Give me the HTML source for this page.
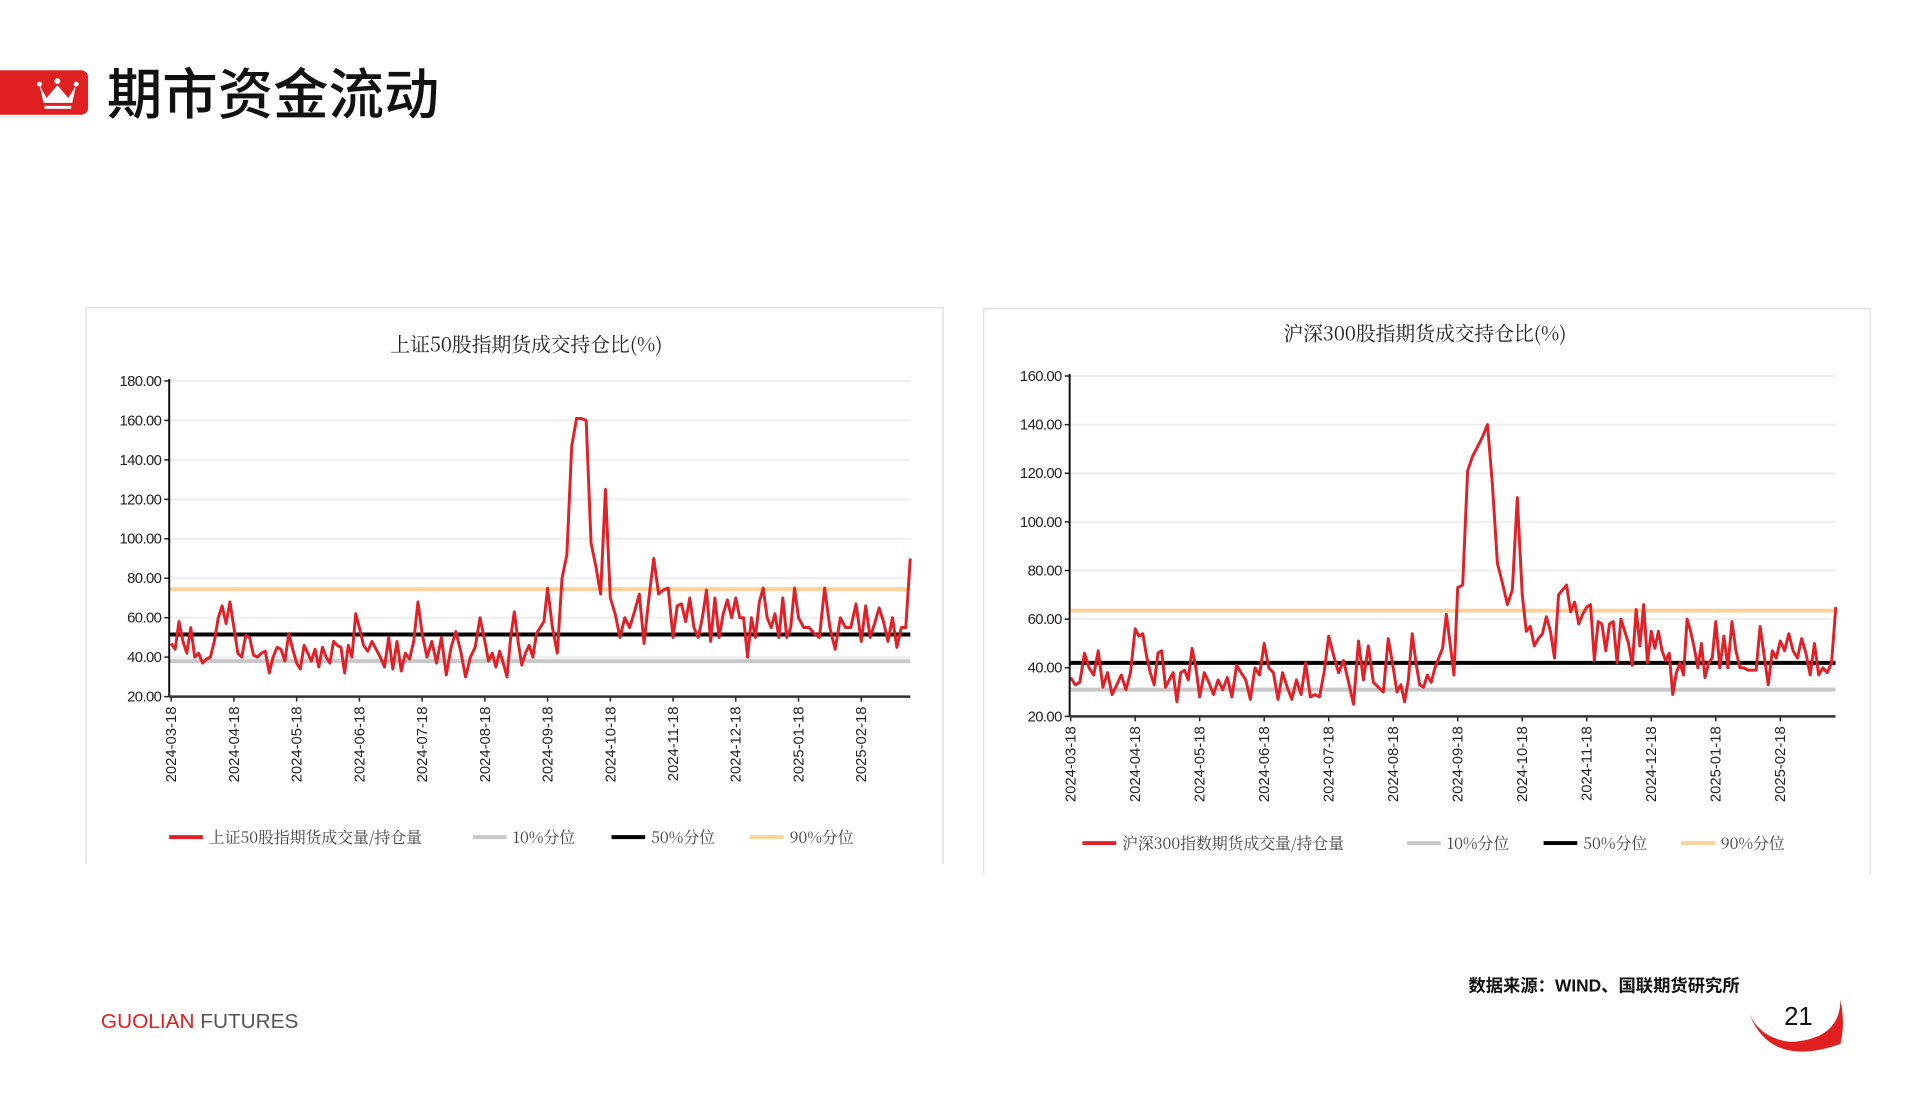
<!DOCTYPE html>
<html><head><meta charset="utf-8">
<style>
body{margin:0;width:1919px;height:1114px;background:#fff;overflow:hidden;position:relative;font-family:"Liberation Sans","Noto Sans CJK SC",sans-serif;}
#wrap{position:absolute;left:0;top:0;width:1919px;height:1114px;transform:scale(0.9895);transform-origin:0 0;}
.abs{position:absolute}
</style></head>
<body>
<div id="wrap">
<div class="abs" style="left:0;top:71px;width:89px;height:45px;background:#e02020;border-radius:0 7px 7px 0;">
<svg width="89" height="45"><circle cx="58" cy="11" r="3" fill="#fff"/><circle cx="40" cy="14" r="2.5" fill="#fff"/><circle cx="77" cy="14" r="2.5" fill="#fff"/><polygon points="40,15 47,28 58,15 69,28 77,15 73,33 44,33" fill="#fff"/><rect x="45" y="36" width="27" height="3" fill="#fff"/></svg>
</div>
<div class="abs" style="left:108px;top:61px;font-size:56px;line-height:62px;color:#111;font-family:'Noto Sans CJK SC',sans-serif;font-weight:500">期市资金流动</div>

<svg class="abs" style="left:0;top:0" width="1919" height="1114" id="chart"></svg>

<div class="abs" style="left:1484px;top:983px;font-size:17.5px;font-weight:bold;color:#111;">数据来源：WIND、国联期货研究所</div>
<div class="abs" style="left:102px;top:1021px;font-size:21px;"><span style="color:#e02020">GUOLIAN</span> <span style="color:#555">FUTURES</span></div>
<svg class="abs" style="left:1760px;top:995px" width="110" height="85"><path d="M8,30 Q30,85 100,60 Q105,40 100,15 Q100,55 50,58 Q20,55 8,30 Z" fill="#e02020"/></svg>
<div class="abs" style="left:1803px;top:1012px;font-size:26px;color:#111;">21</div>
</div>

<script>
const ticks=["2024-03-18","2024-04-18","2024-05-18","2024-06-18","2024-07-18","2024-08-18","2024-09-18","2024-10-18","2024-11-18","2024-12-18","2025-01-18","2025-02-18"];
const leftY=[20,40,60,80,100,120,140,160,180];
const rightY=[20,40,60,80,100,120,140,160];
const leftPct=[38,51.5,74.5];
const rightPct=[31,42,63.5];
const leftSeries=[
[47,44,58,48,42,55,40,42,37,39,40,48,60,66,57,68],
[55,42,40,51,50,41,40,42,43,32,40,45,44,38,52,44],
[37,34,46,42,38,44,35,45,40,37,48,46,45,32,46,40,62],
[55,46,43,48,44,40,35,50,34,48,33,42,39,48,68],
[52,40,48,37,50,31,45,53,43,30,40,45,60],
[48,38,42,35,43,37,30,50,63,48,36,42,46,40,52,55,58],
[75,55,42,80,92,147,161,161,160,98,86,72,125],
[70,62,50,60,55,63,72,47,70,90,72,74,75],
[50,66,67,58,70,55,50,60,74,48,70,50,62,69,60],
[70,60,60,40,60,50,68,75,60,55,62,50,70,50,55,75],
[60,55,55,52,50,75,55,44,60,55,55,67],
[48,66,50,57,65,58,48,60,45,55,55,90]];
const rightSeries=[
[36,33,34,46,40,37,47,32,38,29,33,37,31,38],
[56,53,54,45,38,33,46,47,32,35,38,26,38,39,35,48,40],
[28,38,34,29,35,31,36,28,41,38,35,27,40,37],
[50,40,38,27,38,32,27,35,29,42,28,29,28,38],
[53,45,38,43,34,25,51,35,49,34,32,30,52],
[40,30,33,26,35,54,42,33,32,37,34,40,44,48,62,50,37],
[73,74,121,127,131,135,140,115,83,75,66,72,110],
[70,55,57,49,52,54,61,55,44,70,72,74,63,67,58,62],
[65,66,43,59,58,47,58,59,42,60,55,50,41,64,49,66,42],
[55,48,55,47,43,46,29,38,42,37,60,55,48,40,50,36,42,44],
[59,40,53,40,59,47,40,40,39,39,39,57,45,33,47,44],
[51,47,54,47,44,52,46,37,50,37,40,38,42,65]];
const leftLegend=["上证50股指期货成交量/持仓量","10%分位","50%分位","90%分位"];
const rightLegend=["沪深300指数期货成交量/持仓量","10%分位","50%分位","90%分位"];

const NS="http://www.w3.org/2000/svg";
const svg=document.getElementById('chart');
function mk(tag,attrs,parent){const e=document.createElementNS(NS,tag);for(const k in attrs)e.setAttribute(k,attrs[k]);(parent||svg).appendChild(e);return e;}

function drawChart(c){
  const g=mk('g',{});
  
  
  const p=mk('path',{d:`M${c.px0},${c.py1} V${c.py0} H${c.px1} V${c.py1}`,fill:'none',stroke:'#e2e2e2','stroke-width':1.5},g);
  
  
  const t=mk('text',{x:c.tx,y:c.ty,'text-anchor':'middle','font-size':20,fill:'#222','font-family':'"Noto Serif CJK SC",serif'},g);
  t.textContent=c.title;
  
  
  const ymin=c.yt[0],ymax=c.yt[c.yt.length-1];
  const Y=v=>c.y0+(v-ymin)/(ymax-ymin)*(c.y1-c.y0);
  const X=m=>c.x0+m*c.mw;
  c.yt.forEach(v=>{
    if(v>ymin){const gl=mk('line',{x1:c.ax,x2:c.xEnd,y1:Y(v),y2:Y(v),stroke:'#eee','stroke-width':2},g);
    
    }
    mk('line',{x1:c.ax-5,x2:c.ax,y1:Y(v),y2:Y(v),stroke:'#222','stroke-width':1.5},g);
    const l=mk('text',{x:c.ax-8,y:Y(v)+5,'text-anchor':'end','font-size':15,fill:'#222','letter-spacing':'-0.6'},g);
    l.textContent=v.toFixed(2);
    
    
  });
  ticks.forEach((d,i)=>{
    const x=X(i);
    mk('line',{x1:x,x2:x,y1:c.y0,y2:c.y0+5,stroke:'#222','stroke-width':1.5},g);
    const l=mk('text',{x:x+5,y:c.y0+10,'text-anchor':'end','font-size':15,fill:'#222',transform:`rotate(-90 ${x+5} ${c.y0+10})`},g);
    l.textContent=d;
    
    
  });
  const pc=['#c8c8c8','#000','#f9d29c'];
  c.pct.forEach((v,i)=>{
    const l=mk('line',{x1:c.ax,x2:c.xEnd,y1:Y(v),y2:Y(v),stroke:pc[i],'stroke-width':4},g);
    
    
  });
  let pts=[];
  c.series.forEach((arr,m)=>{
    const last=m===c.series.length-1;
    arr.forEach((v,k)=>{
      const xm=last? m+k/(arr.length-1)*c.endFrac : m+k/arr.length;
      pts.push(X(xm).toFixed(1)+','+Y(v).toFixed(1));
    });
  });
  const pl=mk('polyline',{points:pts.join(' '),fill:'none',stroke:'#e02127','stroke-width':3,'stroke-linejoin':'round'},g);
  
  
  mk('line',{x1:c.ax,x2:c.ax,y1:c.y1-2,y2:c.y0,stroke:'#111','stroke-width':2},g);
  mk('line',{x1:c.ax,x2:c.xEnd,y1:c.y0,y2:c.y0,stroke:'#333','stroke-width':2.5},g);
  const lc=['#e02127','#c8c8c8','#000','#f9d29c'];
  c.leg.forEach((txt,i)=>{
    const lx=c.legX[i];
    const e=mk('g',{},g);
    
    
    mk('line',{x1:lx,x2:lx+34,y1:c.legY,y2:c.legY,stroke:lc[i],'stroke-width':4},e);
    const tt=mk('text',{x:lx+40,y:c.legY+6,'font-size':16,fill:'#444','font-family':'"Noto Serif CJK SC",serif'},e);
    tt.textContent=txt;
  });
}
drawChart({name:'sz50-chart',title:'上证50股指期货成交持仓比(%)',px0:87,px1:953,py0:311,py1:873,tx:532,ty:355,
  ax:171,x0:173,mw:63.4,xEnd:920,endFrac:0.78,y0:704,y1:385,yt:leftY,pct:leftPct,series:leftSeries,
  leg:leftLegend,legX:[171,478,618,758],legY:846});
drawChart({name:'hs300-chart',title:'沪深300股指期货成交持仓比(%)',px0:994,px1:1890,py0:312,py1:883,tx:1440,ty:344,
  ax:1081,x0:1082,mw:65.2,xEnd:1855,endFrac:0.86,y0:724,y1:380,yt:rightY,pct:rightPct,series:rightSeries,
  leg:rightLegend,legX:[1094,1422,1560,1699],legY:852});
</script>
</body></html>
